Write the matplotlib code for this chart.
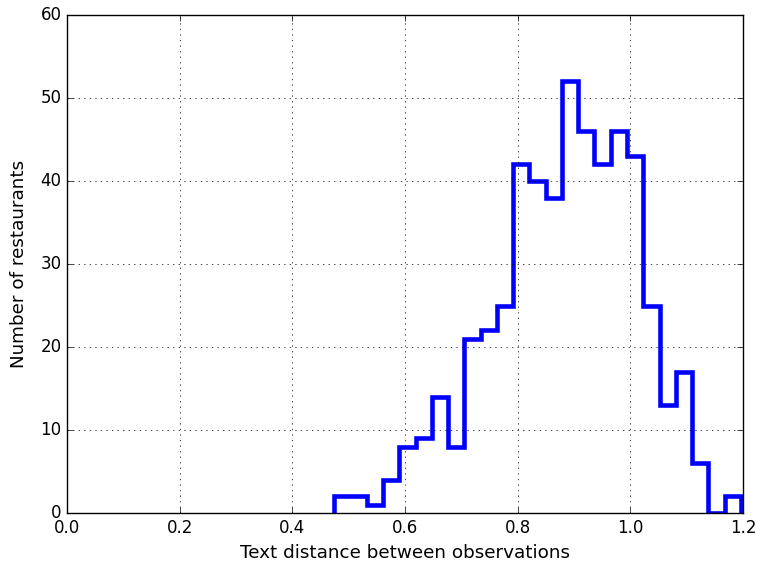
import matplotlib
matplotlib.use("Agg")
import matplotlib.pyplot as plt
import numpy as np

plt.style.use('classic')

bin_start = 0.4744
bin_width = 0.02887
counts = [2, 2, 1, 4, 8, 9, 14, 8, 21, 22, 25, 42, 40, 38, 52, 46, 42, 46, 43, 25, 13, 17, 6, 0, 2]

edges = bin_start + bin_width * np.arange(len(counts) + 1)
centers = (edges[:-1] + edges[1:]) / 2

fig = plt.figure(figsize=(7.57, 5.62), dpi=100)
fig.patch.set_facecolor('white')
ax = fig.add_axes([67/757, 1 - 513/562, (743-67)/757, (513-15)/562])
ax.hist(centers, bins=edges, weights=counts, histtype='step', color='b', linewidth=3.3)
ax.set_xlim(0, 1.2)
ax.set_ylim(0, 60)
ax.set_xticks(np.arange(0, 1.21, 0.2))
ax.set_yticks(np.arange(0, 61, 10))
ax.grid(True)
ax.tick_params(labelsize=12)
ax.set_xlabel('Text distance between observations', fontsize=13.2, labelpad=5)
ax.set_ylabel('Number of restaurants', fontsize=13.2, labelpad=9)
fig.savefig('out.png', dpi=100, facecolor='white')
